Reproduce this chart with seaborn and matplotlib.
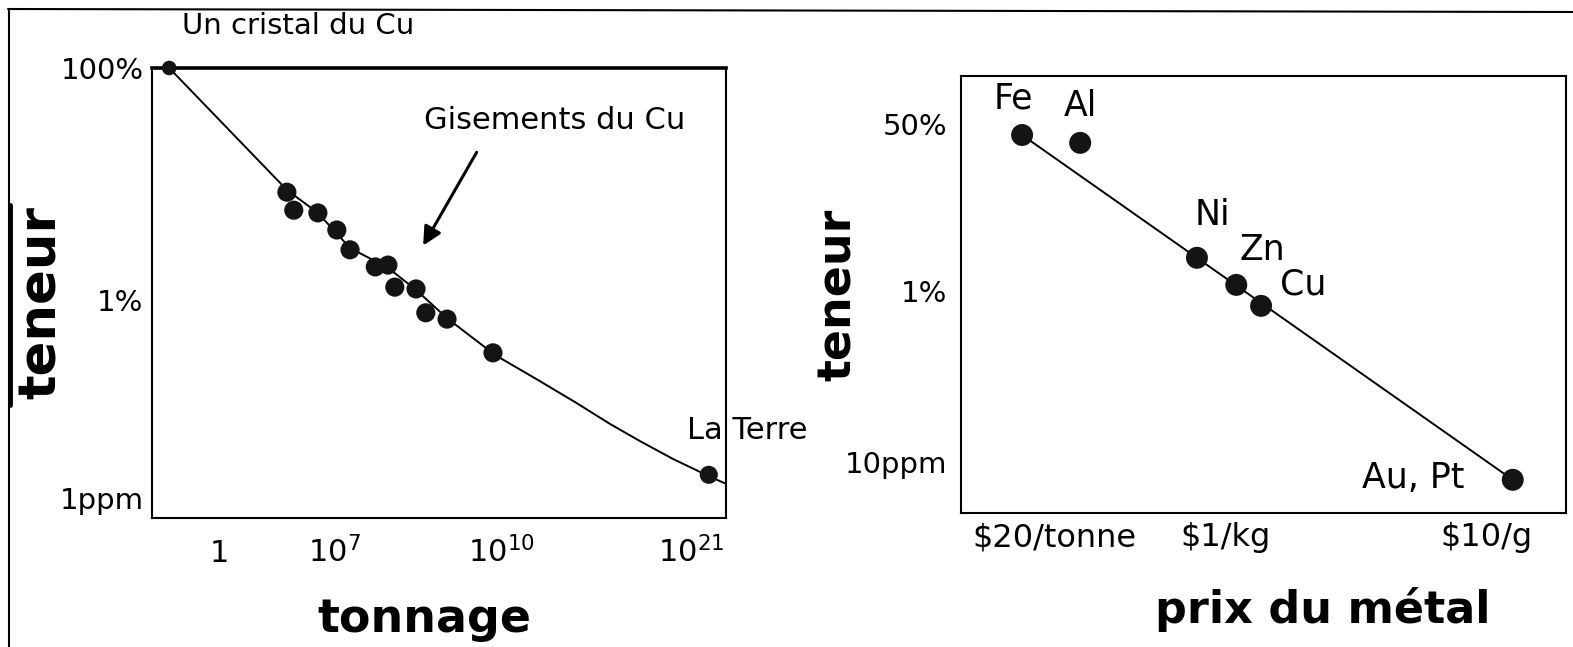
import numpy as np
import seaborn as sns
import matplotlib.pyplot as plt
import pandas as pd
from matplotlib.lines import Line2D

sns.set_style('white')
plt.rcParams['font.family'] = ['DejaVu Sans']
plt.rcParams['text.color'] = 'k'
plt.rcParams['axes.labelcolor'] = 'k'
plt.rcParams['xtick.color'] = 'k'
plt.rcParams['ytick.color'] = 'k'

W, H = 1573, 647

# --- left panel : teneur vs tonnage (schematic positions, 0-100 across the frame)
tonnage_ticks = [11.5, 31.7, 60.8, 94.0]
tonnage_labels = [r'$\mathregular{1}$', r'$\mathregular{10^{7}}$',
                  r'$\mathregular{10^{10}}$', r'$\mathregular{10^{21}}$']
grade_ticks_l = [100.0, 48.4, 4.4]
grade_labels_l = ['100%', '1%', '1ppm']

deposits_x = [23.5, 24.7, 28.9, 32.2, 34.5, 38.9, 41.1, 42.3, 46.0, 47.7, 51.4, 59.4]
deposits_y = [72.4, 68.4, 67.8, 64.0, 59.6, 55.8, 56.2, 51.3, 50.9, 45.6, 44.2, 36.7]
crystal_x, crystal_y = [3.0], [100.0]
earth_x, earth_y = [97.0], [9.6]

curve_x = [3.0, 23.5, 28.9, 34.5, 41.1, 46.0, 51.4, 59.8, 67.6, 73.9, 79.8, 85.0, 90.8, 97.0, 100.0]
curve_y = [100.0, 72.9, 67.8, 60.0, 55.6, 50.7, 44.4, 36.2, 30.4, 25.6, 20.9, 17.1, 13.1, 9.3, 7.6]

# --- right panel : teneur vs prix du metal
price_ticks = [15.4, 43.8, 86.9]
price_labels = [r'\$20/tonne', r'\$1/kg', r'\$10/g']
grade_ticks_r = [89.0, 50.8, 11.7]
grade_labels_r = ['50%', '1%', '10ppm']

metals = ['Fe', 'Al', 'Ni', 'Zn', 'Cu', 'Au, Pt']
metal_x = [10.1, 19.7, 39.0, 45.5, 49.6, 91.2]
metal_y = [86.5, 84.7, 58.4, 52.2, 47.4, 7.6]
trend_x = [10.1, 91.2]
trend_y = [86.5, 7.6]

fig = plt.figure(figsize=(W / 100, H / 100), dpi=100)
ax1 = fig.add_axes([152 / W, 1 - 518 / H, (726 - 152) / W, (518 - 68) / H])
ax2 = fig.add_axes([961 / W, 1 - 513 / H, (1566 - 961) / W, (513 - 76) / H])

ink = '#141414'

# left
sns.lineplot(x=curve_x, y=curve_y, ax=ax1, sort=False, estimator=None,
             color='k', lw=1.4, zorder=2)
sns.scatterplot(x=deposits_x, y=deposits_y, ax=ax1, s=190, color=ink,
                edgecolor='none', zorder=3, clip_on=False)
sns.scatterplot(x=crystal_x, y=crystal_y, ax=ax1, s=110, color=ink,
                edgecolor='none', zorder=3, clip_on=False)
sns.scatterplot(x=earth_x, y=earth_y, ax=ax1, s=170, color=ink,
                edgecolor='none', zorder=3, clip_on=False)

ax1.annotate('Un cristal du Cu', (crystal_x[0], crystal_y[0]), xytext=(93, 30),
             textcoords='offset points', ha='center', va='center', fontsize=21)
ax1.annotate('La Terre', (earth_x[0], earth_y[0]), xytext=(-16, 32),
             textcoords='offset points', ha='left', va='center', fontsize=22)
ax1.text(70.2, 88.4, 'Gisements du Cu', ha='center', va='center', fontsize=22)
ax1.annotate('', xy=(47.0, 60.0), xytext=(56.8, 81.8),
             arrowprops=dict(arrowstyle='-|>', color='k', lw=2.2, mutation_scale=28))

ax1.set_xlim(0, 100)
ax1.set_ylim(0, 100)
ax1.set_xticks(tonnage_ticks)
ax1.set_xticklabels(tonnage_labels)
ax1.set_yticks(grade_ticks_l)
ax1.set_yticklabels(grade_labels_l)
ax1.tick_params(axis='x', length=0, pad=32, labelsize=22)
ax1.tick_params(axis='y', length=0, pad=6, labelsize=21)
for lab in ax1.get_xticklabels():
    lab.set_va('baseline')

# right
sns.lineplot(x=trend_x, y=trend_y, ax=ax2, sort=False, estimator=None,
             color='k', lw=1.4, zorder=2)
sns.scatterplot(x=metal_x, y=metal_y, ax=ax2, s=250, color=ink,
                edgecolor='none', zorder=3, clip_on=False)
offsets = [(-6.5, 26.6), (0, 26.6), (11.5, 31), (18.7, 25.2), (30.2, 15.1), (-71.3, 1.4)]
for name, x, y, off in zip(metals, metal_x, metal_y, offsets):
    ax2.annotate(name, (x, y), xytext=off, textcoords='offset points',
                 ha='center', va='center', fontsize=25)

ax2.set_xlim(0, 100)
ax2.set_ylim(0, 100)
ax2.set_xticks(price_ticks)
ax2.set_xticklabels(price_labels)
ax2.set_yticks(grade_ticks_r)
ax2.set_yticklabels(grade_labels_r)
ax2.tick_params(axis='x', length=0, pad=24, labelsize=23)
ax2.tick_params(axis='y', length=0, pad=10, labelsize=21)
for lab in ax2.get_xticklabels():
    lab.set_va('baseline')

for ax in (ax1, ax2):
    for sp in ax.spines.values():
        sp.set_color('k')
        sp.set_linewidth(1.5)
ax1.spines['top'].set_linewidth(2.6)

# axis titles
ax1.set_ylabel('teneur', fontsize=37, fontweight='bold', va='center')
ax1.yaxis.set_label_coords(42 / W, 1 - 303 / H, transform=fig.transFigure)
ax2.set_ylabel('teneur', fontsize=33, fontweight='bold', va='center')
ax2.yaxis.set_label_coords(838 / W, 1 - 295 / H, transform=fig.transFigure)
ax1.set_xlabel('tonnage', fontsize=33, fontweight='bold', va='baseline')
ax1.xaxis.set_label_coords(424 / W, 1 - 632 / H, transform=fig.transFigure)
ax2.set_xlabel('prix du métal', fontsize=32, fontweight='bold', va='baseline')
ax2.xaxis.set_label_coords(1323 / W, 1 - 623 / H, transform=fig.transFigure)

# outer frame of the slide
fig.add_artist(Line2D([8 / W, 1], [1 - 9 / H, 1 - 12 / H], transform=fig.transFigure,
                      color='k', lw=1.5))
fig.add_artist(Line2D([9 / W, 9 / W], [1 - 9 / H, 0], transform=fig.transFigure,
                      color='k', lw=1.5))
fig.add_artist(Line2D([10 / W, 10 / W], [1 - 205 / H, 1 - 405 / H],
                      transform=fig.transFigure, color='k', lw=3.5))

fig.savefig('out.png', dpi=100)
